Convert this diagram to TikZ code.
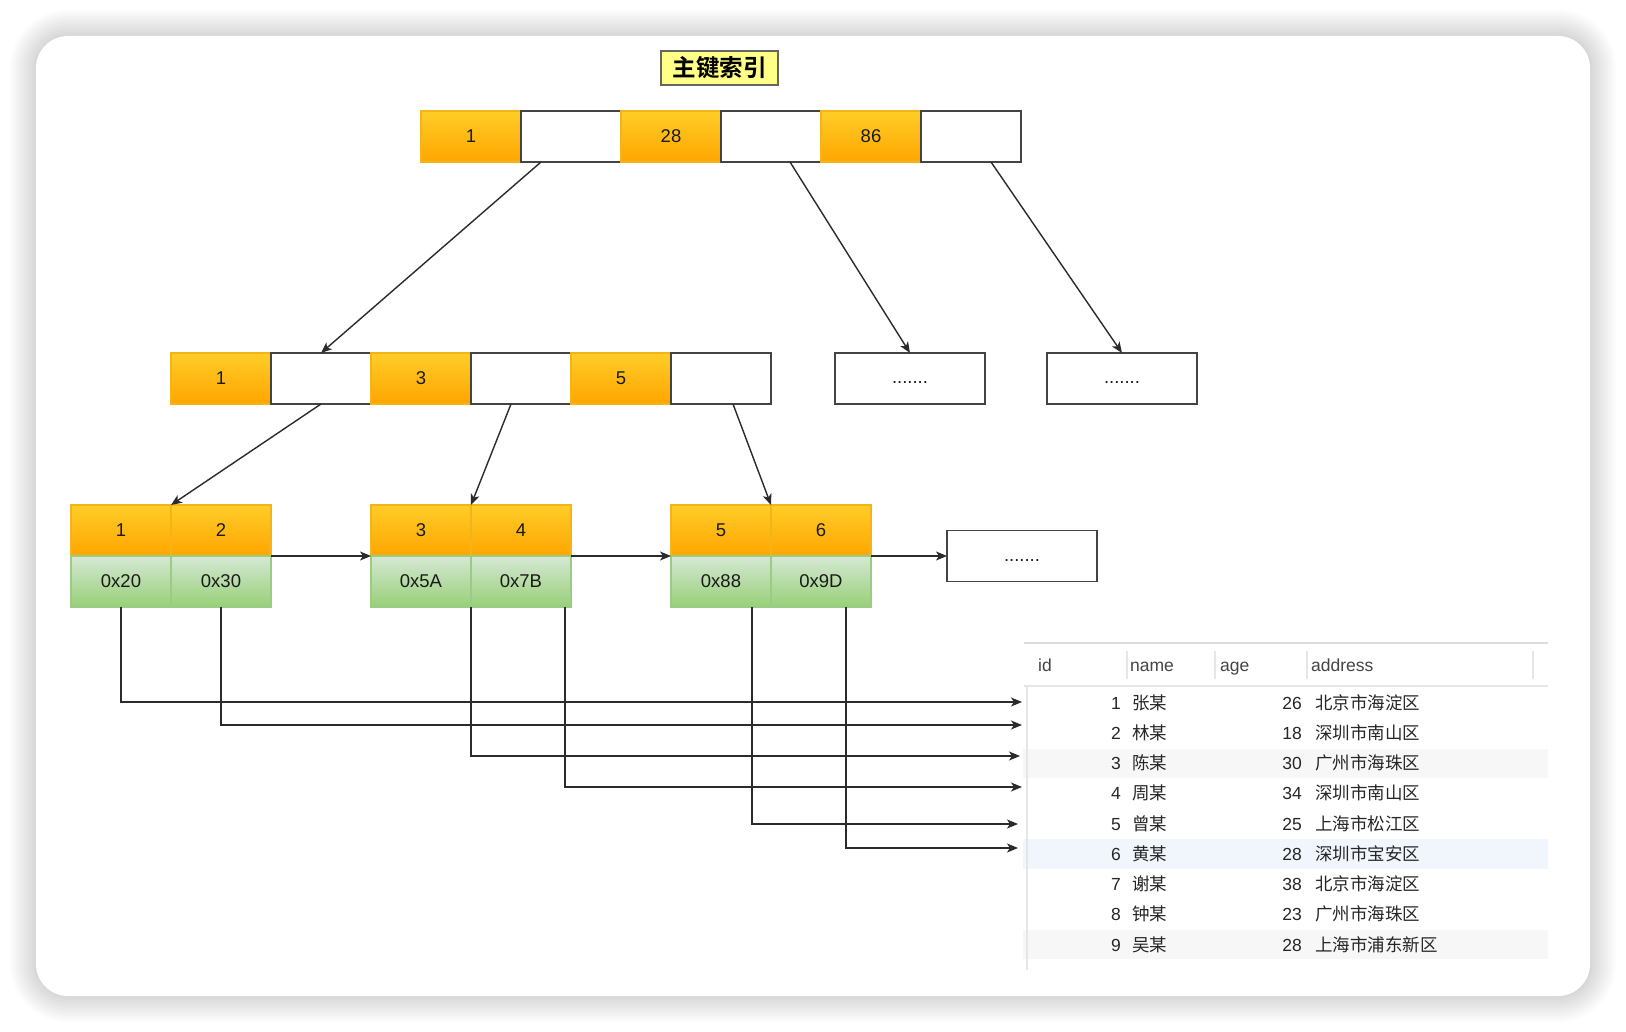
\documentclass[tikz,border=0pt]{standalone}
\usepackage{fontspec}
\setmainfont{Liberation Sans}
\newfontfamily\cjk[BoldFont={Noto Sans CJK SC Bold}]{Noto Sans CJK SC}
\usetikzlibrary{arrows.meta}
\definecolor{ortop}{HTML}{FFCD28}
\definecolor{orbot}{HTML}{FFA500}
\definecolor{orline}{HTML}{F2B418}
\definecolor{grtop}{HTML}{D5E8D4}
\definecolor{grbot}{HTML}{97D077}
\definecolor{grline}{HTML}{9CCB86}
\definecolor{boxline}{HTML}{444444}
\definecolor{wire}{HTML}{2B2B2B}
\definecolor{notefill}{HTML}{FFFF88}
\definecolor{noteline}{HTML}{666666}
\definecolor{tabline}{HTML}{DCDCDC}
\definecolor{tabsep}{HTML}{E6E6E6}
\definecolor{rowgray}{HTML}{F7F7F7}
\definecolor{rowblue}{HTML}{F1F6FD}
\definecolor{tabtext}{HTML}{262626}
\definecolor{headtext}{HTML}{444444}
\definecolor{celltext}{HTML}{1A1A1A}

% placeholder text for boxes that stand for further nodes
\newcommand{\moredots}{\smash{\raisebox{-5pt}{.......}}}

\begin{document}
\begin{tikzpicture}[x=1pt,y=-1pt,
  cell/.style={rectangle, inner sep=0pt, outer sep=0pt, minimum width=100pt,
    minimum height=51pt, font=\fontsize{18.5}{20}\selectfont, text=celltext, line width=1.3pt},
  keycell/.style={cell, top color=ortop, bottom color=orbot, draw=orline},
  ptrcell/.style={cell, fill=white, draw=boxline},
  addrcell/.style={cell, top color=grtop, bottom color=grbot, draw=grline},
  morebox/.style={cell, minimum width=150pt, fill=white, draw=boxline},
  link/.style={draw=wire, line width=1.4pt,
    -{Stealth[length=11pt,width=9pt,inset=3pt]}},
  titlebox/.style={rectangle, inner sep=0pt, minimum width=117pt, minimum height=34pt,
    fill=notefill, draw=noteline, line width=1.5pt, font=\cjk\bfseries\fontsize{23.5}{25}\selectfont},
  tabfont/.style={inner sep=0pt, text=tabtext, font=\fontsize{17.5}{20}\selectfont},
  headfont/.style={inner sep=0pt, text=headtext, font=\fontsize{17.5}{20}\selectfont, anchor=base west},
]
\useasboundingbox (0,0) rectangle (1626,1032);
\fill[white] (0,0) rectangle (1626,1032);

% soft shadow behind the card
\foreach \e in {2,4,...,26} {
  \fill[black, opacity=0.013, rounded corners={32pt+\e pt}]
    (36-\e,36-\e) rectangle (1590+\e,996+\e);
}
\fill[white, rounded corners=32pt] (36,36) rectangle (1590,996);

% title
\node[titlebox] (ttl) at (719.5,68) {主键索引};

% root node
\node[keycell] (t1) at (471,136.5) {1};
\node[ptrcell] (t2) at (571,136.5) {};
\node[keycell] (t3) at (671,136.5) {28};
\node[ptrcell] (t4) at (771,136.5) {};
\node[keycell] (t5) at (871,136.5) {86};
\node[ptrcell] (t6) at (971,136.5) {};

% second level
\node[keycell] (m1) at (221,378.5) {1};
\node[ptrcell] (m2) at (321,378.5) {};
\node[keycell] (m3) at (421,378.5) {3};
\node[ptrcell] (m4) at (521,378.5) {};
\node[keycell] (m5) at (621,378.5) {5};
\node[ptrcell] (m6) at (721,378.5) {};
\node[morebox] (d1) at (910,378.5) {\moredots};
\node[morebox] (d2) at (1122,378.5) {\moredots};

% leaves: keys on top, row addresses below
\node[keycell] (k1) at (121,530.5) {1};
\node[keycell] (k2) at (221,530.5) {2};
\node[addrcell] (g1) at (121,581.5) {0x20};
\node[addrcell] (g2) at (221,581.5) {0x30};
\node[keycell] (k3) at (421,530.5) {3};
\node[keycell] (k4) at (521,530.5) {4};
\node[addrcell] (g3) at (421,581.5) {0x5A};
\node[addrcell] (g4) at (521,581.5) {0x7B};
\node[keycell] (k5) at (721,530.5) {5};
\node[keycell] (k6) at (821,530.5) {6};
\node[addrcell] (g5) at (721,581.5) {0x88};
\node[addrcell] (g6) at (821,581.5) {0x9D};
\node[morebox] (d3) at (1022,556) {\moredots};

% tree edges
\draw[link] ([xshift=20pt]t2.south west) -- (m2.north);
\draw[link] ([xshift=69pt]t4.south west) -- (d1.north);
\draw[link] ([xshift=70pt]t6.south west) -- (d2.north);
\draw[link] (m2.south) -- (k1.north east);
\draw[link] ([xshift=40pt]m4.south west) -- (k3.north east);
\draw[link] ([xshift=62pt]m6.south west) -- (k5.north east);

% leaf chain
\draw[link] (k2.south east) -- (k3.south west);
\draw[link] (k4.south east) -- (k5.south west);
\draw[link] (k6.south east) -- (d3.west);

% table rows
\fill[rowgray] (1023,749) rectangle (1548,778);
\fill[rowblue] (1023,839) rectangle (1548,869);
\fill[rowgray] (1023,930) rectangle (1548,959);
\draw[tabline, line width=2pt] (1024,643) -- (1548,643);
\draw[tabsep, line width=1.5pt] (1024,686) -- (1548,686);
\draw[tabsep, line width=1.5pt] (1027,686) -- (1027,970);
\foreach \x in {1127,1215,1307,1533}
  \draw[tabsep, line width=1.5pt] (\x,651) -- (\x,679);
\node[headfont] (hid) at (1038,671) {id};
\node[headfont] (hname) at (1130,671) {name};
\node[headfont] (hage) at (1220,671) {age};
\node[headfont] (haddr) at (1311,671) {address};

\foreach \i/\n/\a/\ad in {1/张某/26/北京市海淀区, 2/林某/18/深圳市南山区,
    3/陈某/30/广州市海珠区, 4/周某/34/深圳市南山区, 5/曾某/25/上海市松江区,
    6/黄某/28/深圳市宝安区, 7/谢某/38/北京市海淀区, 8/钟某/23/广州市海珠区,
    9/吴某/28/上海市浦东新区} {
  \pgfmathsetmacro{\yb}{703+30.25*(\i-1)+6}
  \node[tabfont, anchor=base east] (rid\i) at (1121,\yb) {\i};
  \node[tabfont, anchor=base west] (rname\i) at (1132,\yb) {\cjk \n};
  \node[tabfont, anchor=base east] (rage\i) at (1302,\yb) {\a};
  \node[tabfont, anchor=base west] (raddr\i) at (1315,\yb) {\cjk \ad};
}

% row pointers into the table
\coordinate (r1) at (1022,702);
\coordinate (r2) at (1022,725);
\coordinate (r3) at (1020,756);
\coordinate (r4) at (1022,787);
\coordinate (r5) at (1018,824);
\coordinate (r6) at (1018,848);
\draw[link] (g1.south) |- (r1);
\draw[link] (g2.south) |- (r2);
\draw[link] (g3.south east) |- (r3);
\draw[link] ([xshift=-6pt]g4.south east) |- (r4);
\draw[link] ([xshift=-19pt]g5.south east) |- (r5);
\draw[link] ([xshift=-25pt]g6.south east) |- (r6);
\end{tikzpicture}
\end{document}
